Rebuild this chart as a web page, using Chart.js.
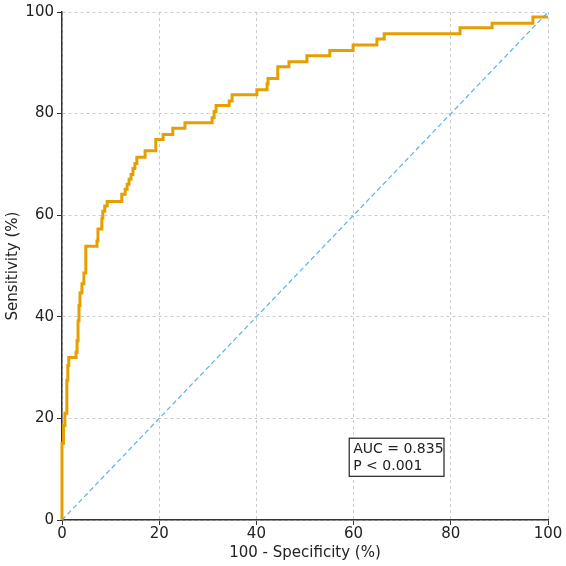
<!DOCTYPE html>
<html lang="en">
<head>
<meta charset="UTF-8">
<title>ROC curve</title>
<script src="https://cdn.jsdelivr.net/npm/chart.js"></script>
<style>
  html, body { margin: 0; padding: 0; background: #fff; }
  #wrap { width: 566px; height: 566px; }
</style>
</head>
<body>
<div id="wrap"><canvas id="roc"></canvas></div>
<script>
// ROC step points (100 - specificity, sensitivity)
const fpr = [0, 0, 0.3, 0.6, 1.0, 1.2, 1.4, 2.9, 3.1, 3.3, 3.5, 3.7, 4.1, 4.5, 4.9,
  7.2, 7.4, 8.2, 8.4, 8.8, 9.3, 12.3, 13.0, 13.4, 13.8, 14.2, 14.6, 15.0, 15.4,
  17.1, 19.3, 20.8, 22.8, 25.3, 30.9, 31.3, 31.7, 34.4, 35.0, 40.1, 42.2, 42.4,
  44.4, 46.7, 50.4, 55.1, 59.9, 64.8, 66.3, 81.9, 88.5, 96.9, 100];
const tpr = [0, 15.1, 18.6, 21.0, 27.5, 30.4, 32.0, 33.0, 35.3, 39.2, 42.2, 44.7, 46.5, 48.6, 53.9,
  54.9, 57.3, 59.4, 60.8, 61.8, 62.7, 64.1, 65.1, 66.1, 67.1, 68.0, 69.2, 70.2, 71.4,
  72.7, 74.9, 75.9, 77.1, 78.2, 79.2, 80.4, 81.6, 82.5, 83.7, 84.7, 85.9, 86.9,
  89.2, 90.2, 91.4, 92.4, 93.5, 94.7, 95.7, 96.9, 97.8, 99.0, 99.0];
const diagonal = [0, 100];
const tickValues = [0, 20, 40, 60, 80, 100];
const annotationLines = ['AUC = 0.835', 'P < 0.001'];

const FONT = 'DejaVu Sans';

// text box in lower right, anchored to data coordinates
const aucBox = {
  id: 'aucBox',
  afterDraw(chart) {
    const { ctx, scales: { x, y } } = chart;
    const left = x.getPixelForValue(59.1);
    const top = y.getPixelForValue(16.1);
    const right = x.getPixelForValue(78.6);
    const bottom = y.getPixelForValue(8.6);
    ctx.save();
    ctx.fillStyle = '#fff';
    ctx.fillRect(left, top, right - left, bottom - top);
    ctx.strokeStyle = '#222';
    ctx.lineWidth = 1.2;
    ctx.strokeRect(left, top, right - left, bottom - top);
    ctx.fillStyle = '#222';
    ctx.font = '14px "' + FONT + '"';
    ctx.textBaseline = 'middle';
    annotationLines.forEach((t, i) => ctx.fillText(t, left + 4, top + 11 + i * 17));
    ctx.restore();
  }
};

new Chart(document.getElementById('roc'), {
  type: 'line',
  data: {
    datasets: [{
      label: 'Reference',
      data: diagonal.map(v => ({ x: v, y: v })),
      borderColor: '#56B4E9',
      borderWidth: 1.2,
      borderDash: [5, 3],
      pointRadius: 0,
      order: 0,
      clip: false
    }, {
      label: 'ROC',
      data: fpr.map((v, i) => ({ x: v, y: tpr[i] })),
      borderColor: '#E69F00',
      borderWidth: 3,
      stepped: 'before',
      pointRadius: 0,
      order: 1,
      clip: false
    }]
  },
  options: {
    responsive: true,
    maintainAspectRatio: false,
    animation: false,
    layout: { padding: { top: 10, right: 18, left: 0, bottom: 0 } },
    plugins: { legend: { display: false }, tooltip: { enabled: false } },
    scales: {
      x: {
        type: 'linear', min: 0, max: 100,
        afterBuildTicks: s => { s.ticks = tickValues.map(v => ({ value: v })); },
        afterFit: s => { s.height = 46; },
        ticks: { color: '#222', font: { family: FONT, size: 15 }, padding: 0, maxRotation: 0 },
        grid: { color: '#cccccc', tickLength: 5, tickColor: '#333', tickBorderDash: [] },
        border: { color: '#333', width: 1.5, dash: [3, 3] },
        title: { display: true, text: '100 - Specificity (%)', color: '#222', font: { family: FONT, size: 15 }, padding: { top: 0 } }
      },
      y: {
        type: 'linear', min: 0, max: 100,
        afterBuildTicks: s => { s.ticks = tickValues.map(v => ({ value: v })); },
        afterFit: s => { s.width = 62; },
        ticks: { color: '#222', font: { family: FONT, size: 15 }, padding: 3 },
        grid: { color: '#cccccc', tickLength: 5, tickColor: '#333', tickBorderDash: [] },
        border: { color: '#333', width: 1.5, dash: [3, 3] },
        title: { display: true, text: 'Sensitivity (%)', color: '#222', font: { family: FONT, size: 15 }, padding: { bottom: 2 } }
      }
    }
  },
  plugins: [aucBox]
});
</script>
</body>
</html>
